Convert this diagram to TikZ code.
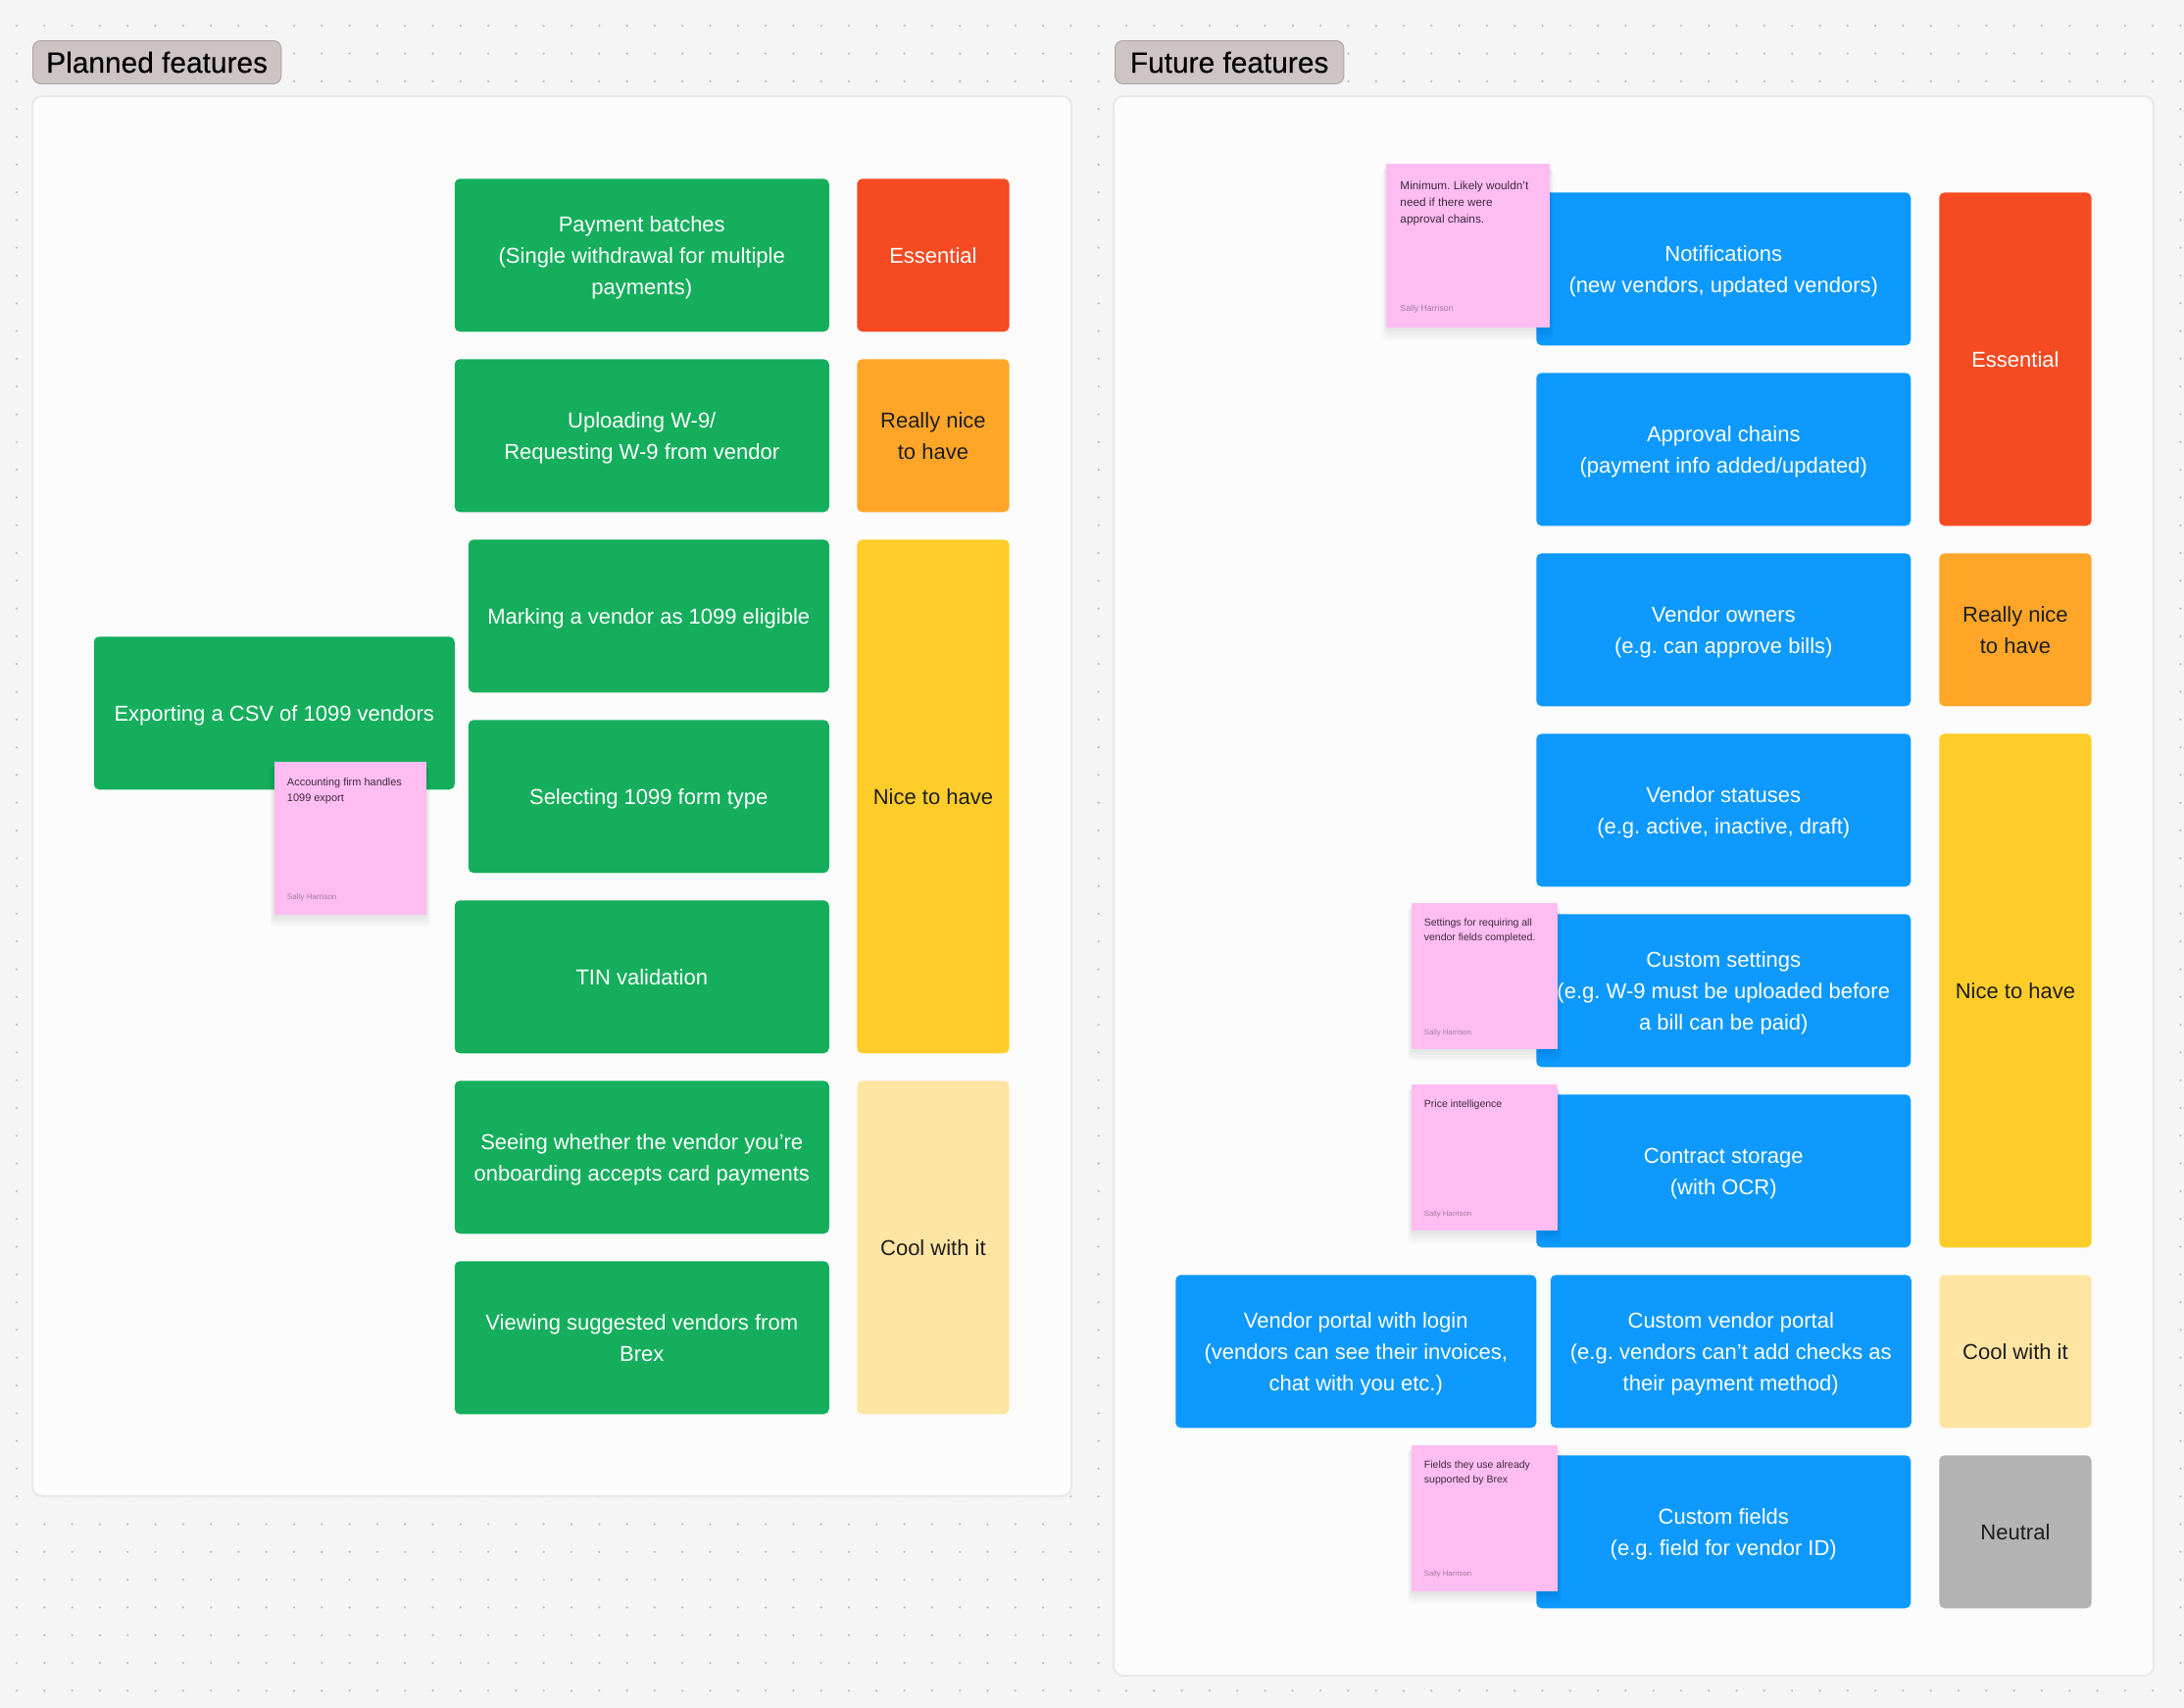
\documentclass[tikz,border=0pt]{standalone}
\usepackage{fontspec}
\setmainfont{Liberation Sans}
\newfontfamily\labelfont[FakeBold=0.25]{Liberation Sans}
\definecolor{bgcol}{HTML}{F5F5F5}
\definecolor{panelcol}{HTML}{FCFCFC}
\definecolor{panelline}{HTML}{E8E8E8}
\definecolor{dotcol}{HTML}{BEBEBE}
\definecolor{labelcol}{HTML}{CEC4C4}
\definecolor{labelline}{HTML}{B0A5A5}
\definecolor{planncol}{HTML}{14AE5C}
\definecolor{futurecol}{HTML}{0D99FF}
\definecolor{essentcol}{HTML}{F64A22}
\definecolor{reallycol}{HTML}{FFA629}
\definecolor{nicecol}{HTML}{FFCD29}
\definecolor{coolcol}{HTML}{FFE5A3}
\definecolor{neutralcol}{HTML}{B3B3B3}
\definecolor{stickycol}{HTML}{FFBDF2}
\definecolor{stickytext}{HTML}{3B2A3B}
\definecolor{stickyname}{HTML}{A07C9C}
\definecolor{darktext}{HTML}{1E1E1E}
\tikzset{
  panel/.style={fill=panelcol,draw=panelline,line width=1.5pt,rounded corners=7.5pt},
  section/.style={anchor=north west,inner sep=0pt,fill=labelcol,draw=labelline,line width=0.75pt,rounded corners=6pt,
    minimum height=33pt,text=black,font=\labelfont\fontsize{22.4}{28}\selectfont},
  card/.style={anchor=north west,inner sep=0pt,rounded corners=4pt,minimum height=117pt,align=flush center,
    font=\fontsize{16.5}{24}\selectfont\frenchspacing,execute at begin node=\rule{0pt}{18.1pt},execute at end node=\rule[-5.9pt]{0pt}{0pt}},
  plan/.style={card,fill=planncol,text=white,text width=286.5pt},
  planshort/.style={plan,text width=276pt},
  future/.style={card,fill=futurecol,text=white,text width=286.5pt},
  futureshort/.style={future,text width=276pt},
  tag/.style={card,text width=116.5pt},
  essential/.style={tag,fill=essentcol,text=white},
  reallynice/.style={tag,fill=reallycol,text=darktext},
  nice/.style={tag,fill=nicecol,text=darktext},
  cool/.style={tag,fill=coolcol,text=darktext},
  neutral/.style={tag,fill=neutralcol,text=darktext},
}
% trailing space of a wrapped line
\newcommand{\trailsp}{\hspace*{4.5pt}}
% name, x, y, size, text
\newcommand{\stickynote}[5]{
  \pgfmathsetmacro{\szpt}{#4*0.75}
  \pgfmathsetmacro{\fsize}{#4*0.75*0.0705}
  \pgfmathsetmacro{\lsize}{#4*0.75*0.1}
  \pgfmathsetmacro{\nsize}{#4*0.75*0.052}
  \foreach \k in {1,...,8}
    \fill [black,opacity=0.012,rounded corners=3pt] (#2-0.5*\k,#3+0.5*\k+1) rectangle ++(#4+\k,#4+\k);
  \node (#1) [anchor=north west,inner sep=0pt,fill=stickycol,minimum width=\szpt pt,minimum height=\szpt pt] at (#2,#3) {};
  \node (#1text) [anchor=north west,inner sep=0pt,align=left,text=stickytext,font=\fontsize{\fsize}{\lsize}\selectfont\frenchspacing]
    at (#2+0.085*#4,#3+0.107*#4) {#5};
  \node (#1name) [anchor=west,inner sep=0pt,text=stickyname,font=\fontsize{\nsize}{\nsize}\selectfont]
    at (#2+0.085*#4,#3+0.889*#4) {Sally Harrison};
}
\begin{document}
\begin{tikzpicture}[x=0.75pt,y=0.75pt,yscale=-1,xscale=1]
\path [use as bounding box,fill=bgcol] (0,0) rectangle (2228,1742);

% dots
\foreach \i in {0,...,78}
  \foreach \j in {0,...,60}
    \fill [dotcol] (17+28.3*\i,26.3+28.3*\j) circle (1.25);

% panels
\draw [panel] (33,98) rectangle (1093,1526);
\draw [panel] (1136,98) rectangle (2197,1709);

% section labels
\node (planned) [section,minimum width=190pt] at (33,41) {Planned features};
\node (futuref) [section,minimum width=175pt] at (1137,41) {Future features};

% planned features
\node (batches) [plan] at (463.5,182) {Payment batches\\(Single withdrawal for multiple\trailsp\\payments)};
\node (uploading) [plan] at (463.5,366) {Uploading W-9/\\Requesting W-9 from vendor};
\node (marking) [planshort] at (477.5,550) {Marking a vendor as 1099 eligible};
\node (selecting) [planshort] at (477.5,734) {Selecting 1099 form type};
\node (tin) [plan] at (463.5,918) {TIN validation};
\node (seeing) [plan] at (463.5,1102) {Seeing whether the vendor you’re\trailsp\\onboarding accepts card payments};
\node (viewing) [plan] at (463.5,1286) {Viewing suggested vendors from\trailsp\\Brex};
\node (exporting) [planshort] at (95.5,649) {Exporting a CSV of 1099 vendors};

\node (tagessent) [essential] at (874,182) {Essential};
\node (tagreally) [reallynice] at (874,366) {Really nice\trailsp\\to have};
\node (tagnice) [nice,minimum height=393pt] at (874,550) {Nice to have};
\node (tagcool) [cool,minimum height=255pt] at (874,1102) {Cool with it};

\stickynote{stickyexport}{279.5}{777}{155.5}{Accounting firm handles\\1099 export}

% future features
\node (notif) [future] at (1567,196) {Notifications\\(new vendors, updated vendors)};
\node (approval) [future] at (1567,380) {Approval chains\\(payment info added/updated)};
\node (owners) [future] at (1567,564) {Vendor owners\\(e.g. can approve bills)};
\node (statuses) [future] at (1567,748) {Vendor statuses\trailsp\\(e.g. active, inactive, draft)};
\node (settings) [future] at (1567,932) {Custom settings\\(e.g. W-9 must be uploaded before\trailsp\\a bill can be paid)};
\node (contract) [future] at (1567,1116) {Contract storage\trailsp\\(with OCR)};
\node (portal) [futureshort] at (1199,1300) {Vendor portal with login\trailsp\\(vendors can see their invoices,\trailsp\\chat with you etc.)};
\node (customportal) [futureshort] at (1581.5,1300) {Custom vendor portal\\(e.g. vendors can’t add checks as\trailsp\\their payment method)};
\node (fields) [future] at (1567,1484) {Custom fields\\(e.g. field for vendor ID)};

\node (futessent) [essential,minimum height=255pt] at (1978,196) {Essential};
\node (futreally) [reallynice] at (1978,564) {Really nice\trailsp\\to have};
\node (futnice) [nice,minimum height=393pt] at (1978,748) {Nice to have};
\node (futcool) [cool] at (1978,1300) {Cool with it};
\node (futneutral) [neutral] at (1978,1484) {Neutral};

\stickynote{stickymin}{1414}{167}{167}{Minimum. Likely wouldn’t\\need if there were\\approval chains.}
\stickynote{stickyset}{1440}{921}{148.5}{Settings for requiring all\\vendor fields completed.}
\stickynote{stickyprice}{1440}{1106}{149}{Price intelligence}
\stickynote{stickyfields}{1440}{1473.5}{149}{Fields they use already\\supported by Brex}

\end{tikzpicture}
\end{document}
